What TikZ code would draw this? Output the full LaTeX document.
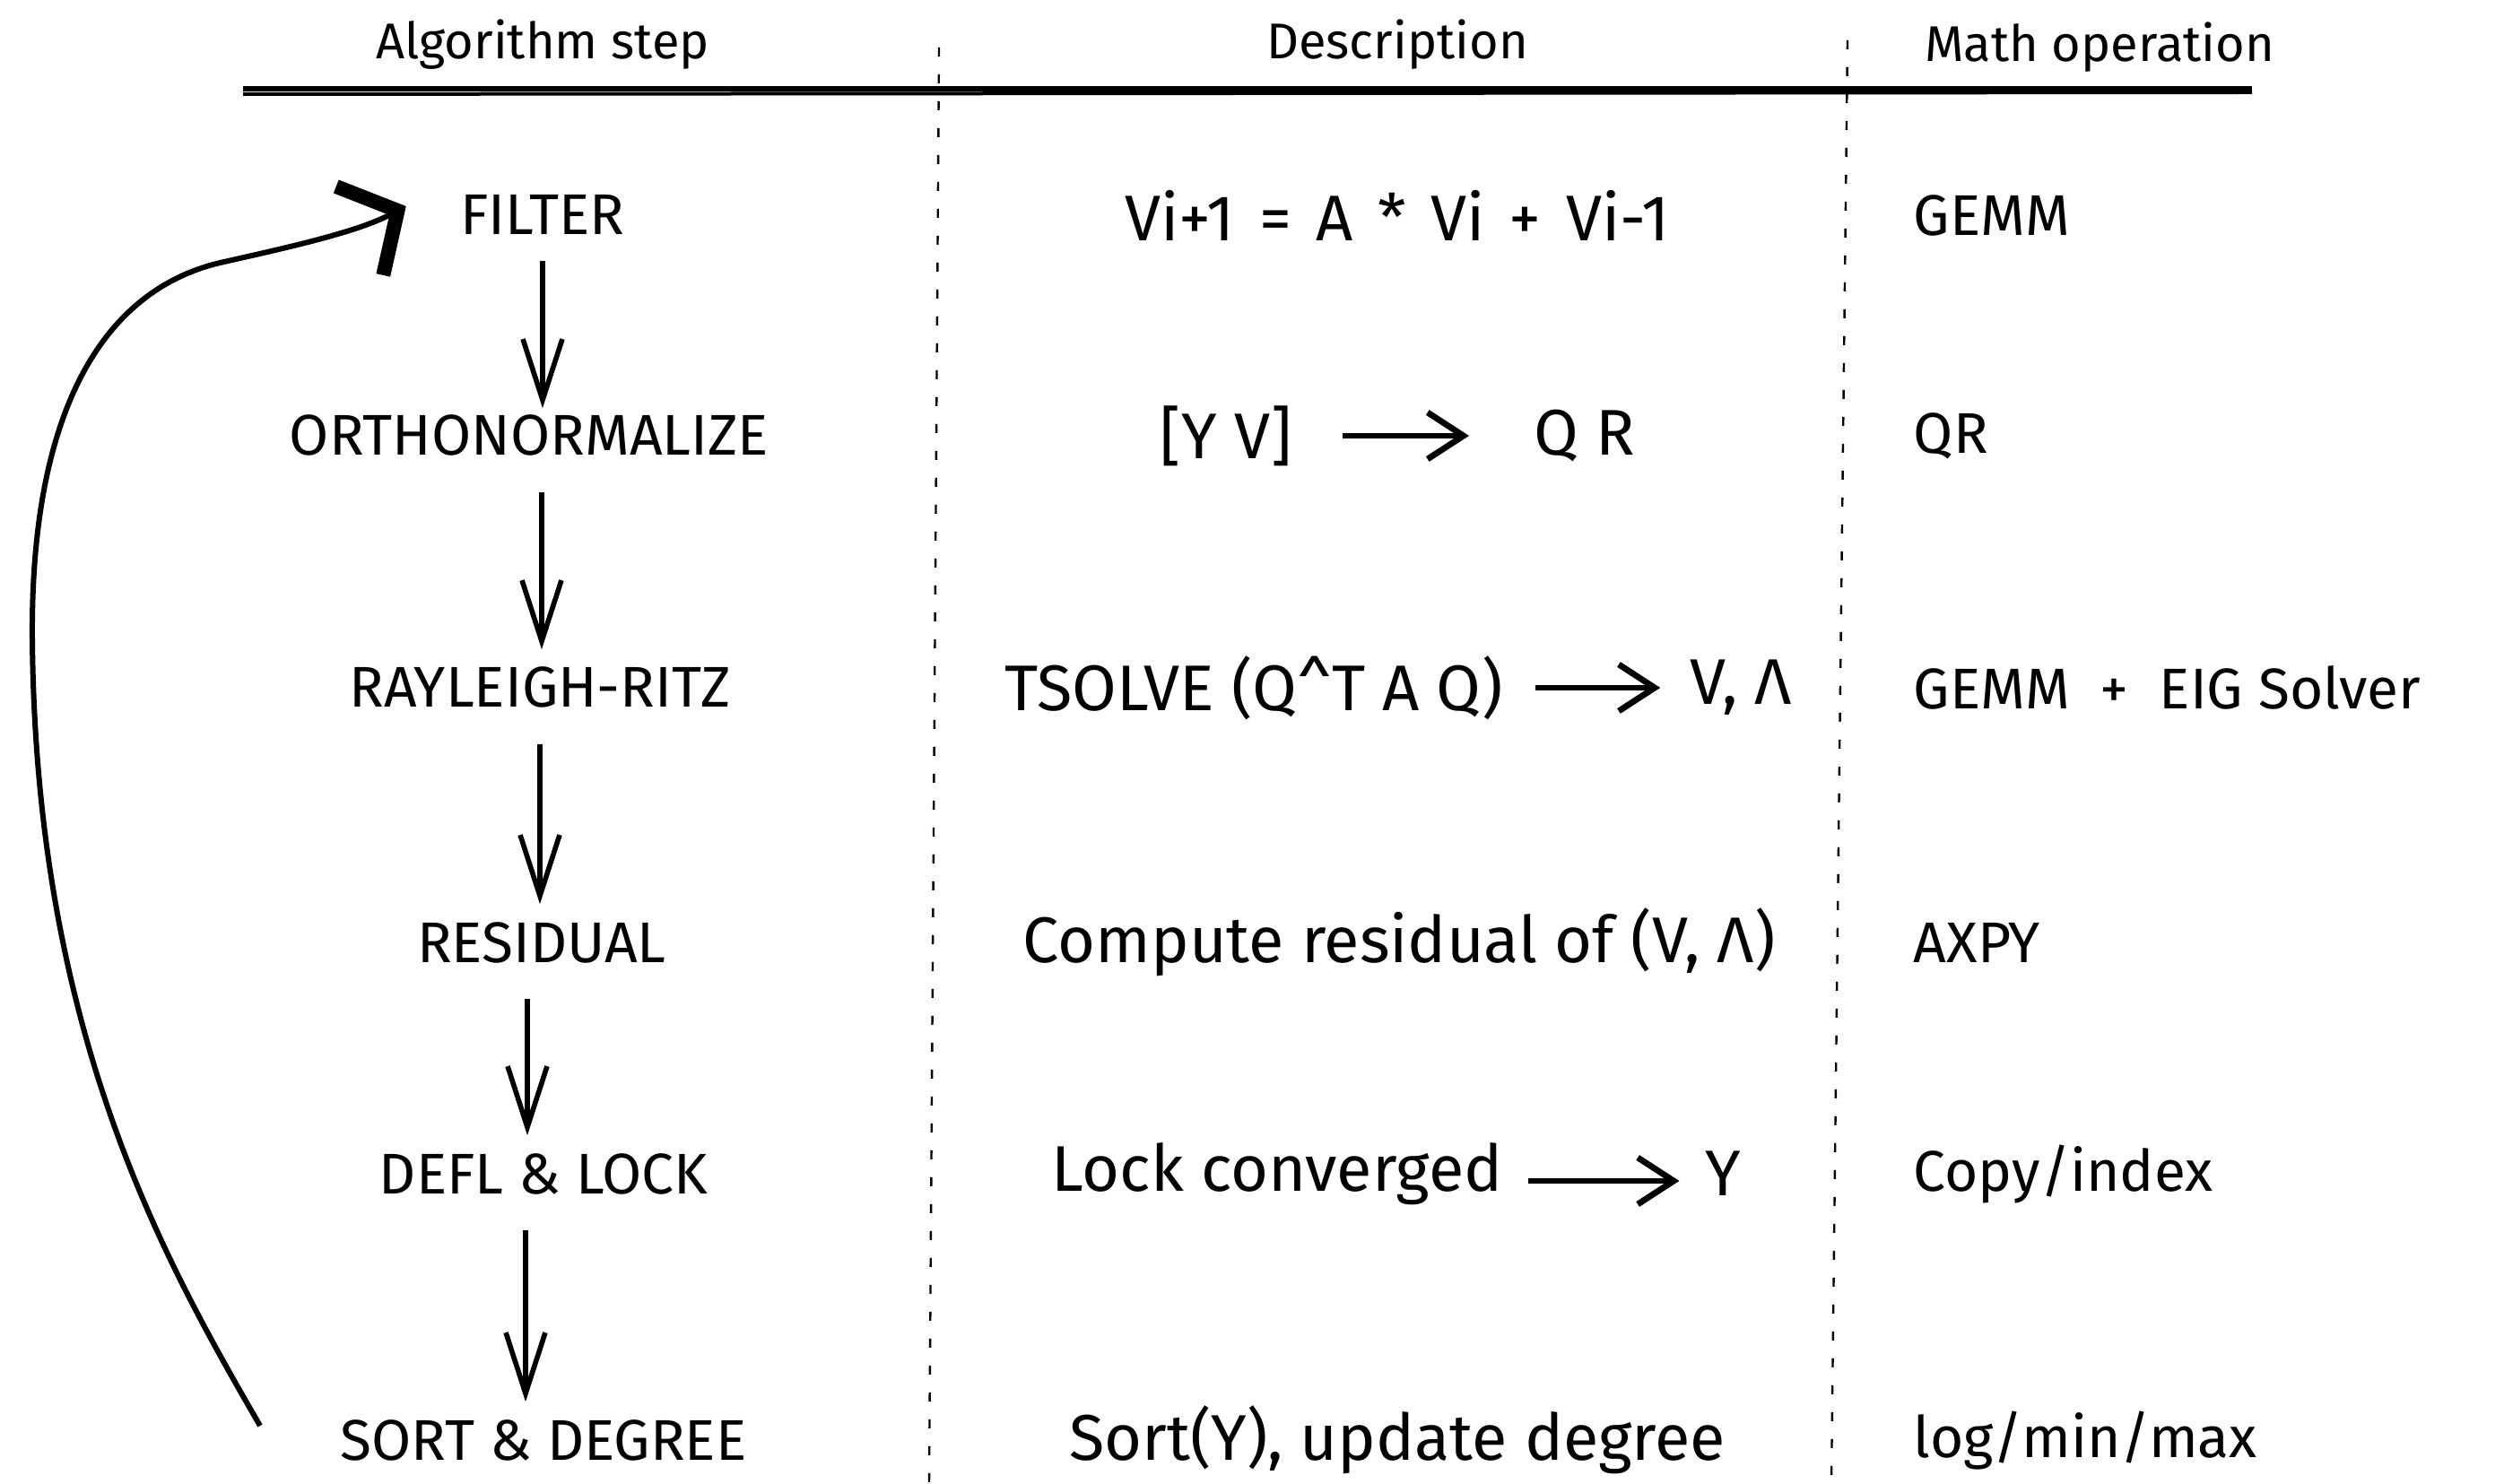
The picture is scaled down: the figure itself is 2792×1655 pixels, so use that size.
\documentclass[tikz,border=0pt]{standalone}
\usepackage{fontspec}
\setmainfont{Fira Sans}
\usetikzlibrary{arrows.meta}
\begin{document}
\begin{tikzpicture}[x=0.25pt,y=-0.25pt,
  hdr/.style={font=\fontsize{14}{16}\selectfont, inner sep=0pt},
  stepnode/.style={font=\fontsize{16}{18}\selectfont, inner sep=0pt, text height=11pt, text depth=0pt},
  desc/.style={font=\fontsize{18}{21}\selectfont, inner sep=0pt},
  mathop/.style={font=\fontsize{16}{19}\selectfont, inner sep=0pt, anchor=west},
  flow/.style={-{Straight Barb[length=17pt,width=11pt]}, line width=1.4pt, shorten <=10pt, shorten >=5pt},
  sarrow/.style={-{Straight Barb[length=10pt,width=13pt]}, line width=1.7pt},
  sep/.style={line width=0.6pt, dash pattern=on 2.5pt off 5pt},
  loop/.style={line width=1.5pt, -{Straight Barb[length=12pt,width=28pt,line width=4pt]}},
]
\fill[white] (0,0) rectangle (2792,1655);
\useasboundingbox (0,0) rectangle (2792,1655);

% headers
\node[hdr] (h1) at (605,50) {Algorithm step};
\node[hdr] (h2) at (1558,50) {Description};
\node[hdr] (h3) at (2341,53) {Math operation};
\draw[line width=1.3pt] (271,99) -- (2511,99);
\draw[line width=1pt] (271,105) -- (2511,103);

% column separators
\draw[sep] (1047,53) -- (1036,1655);
\draw[sep] (2060,45) -- (2042,1655);

% algorithm steps
\node[stepnode] (filter) at (605,240) {FILTER};
\node[stepnode] (ortho) at (590,486) {ORTHONORMALIZE};
\node[stepnode] (rr) at (602,767) {RAYLEIGH-RITZ};
\node[stepnode] (res) at (604,1051) {RESIDUAL};
\node[stepnode] (defl) at (606,1309) {DEFL \& LOCK};
\node[stepnode] (sort) at (606,1606) {SORT \& DEGREE};

\draw[flow, shorten <=7pt, shorten >=2pt] (filter.south) -- (filter.south |- ortho.north);
\draw[flow] ([xshift=3.5pt]ortho.south) -- ([xshift=3.5pt]ortho.south |- rr.north);
\draw[flow] (rr.south) -- (rr.south |- res.north);
\draw[flow] ([xshift=-4pt]res.south) -- ([xshift=-4pt]res.south |- defl.north);
\draw[flow] ([xshift=-5pt]defl.south) -- ([xshift=-5pt]defl.south |- sort.north);

\coordinate (loopstart) at (290,1590);
\draw[loop] (loopstart) .. controls (180,1400) and (40,1150) .. (36,712)
  .. controls (34,450) and (120,320) .. (250,292)
  .. controls (330,274) and (400,258) .. ([xshift=-15pt,yshift=2.5pt]filter.west);

% descriptions
\node[desc] (d1) at (1558,240) {\spaceskip=0.38em Vi+1 = A * Vi + Vi-1};
\node[desc] (d2a) at (1367,486) {[Y V]};
\node[desc] (d2b) at (1767,486) {Q R};
\draw[sarrow, shorten <=14pt, shorten >=18pt] (d2a.east) -- (d2a.east -| d2b.west);
\node[desc] (d3a) at (1398,767) {TSOLVE (Q\textasciicircum T A Q)};
\node[desc] (d3b) at (1941,767) {V, Λ};
\draw[sarrow, shorten <=9pt, shorten >=8pt] (d3a.east) -- (d3a.east -| d3b.west);
\node[desc] (d4) at (1560,1051) {Compute residual of (V, Λ)};
\node[desc] (d5a) at (1424,1309) {Lock converged};
\node[desc] (d5b) at (1921,1309) {Y};
\draw[sarrow, shorten <=7pt, shorten >=7pt] ([yshift=-2pt]d5a.east) -- ([yshift=-2pt]d5a.east -| d5b.west);
\node[desc] (d6) at (1558,1606) {Sort(Y), update degree};

% math operations
\node[mathop] (m1) at (2133,240) {GEMM};
\node[mathop] (m2) at (2133,486) {QR};
\node[mathop] (m3) at (2133,767) {GEMM \ + \ EIG Solver};
\node[mathop] (m4) at (2133,1051) {AXPY};
\node[mathop] (m5) at (2133,1309) {Copy/index};
\node[mathop] (m6) at (2133,1606) {log/min/max};
\end{tikzpicture}
\end{document}
